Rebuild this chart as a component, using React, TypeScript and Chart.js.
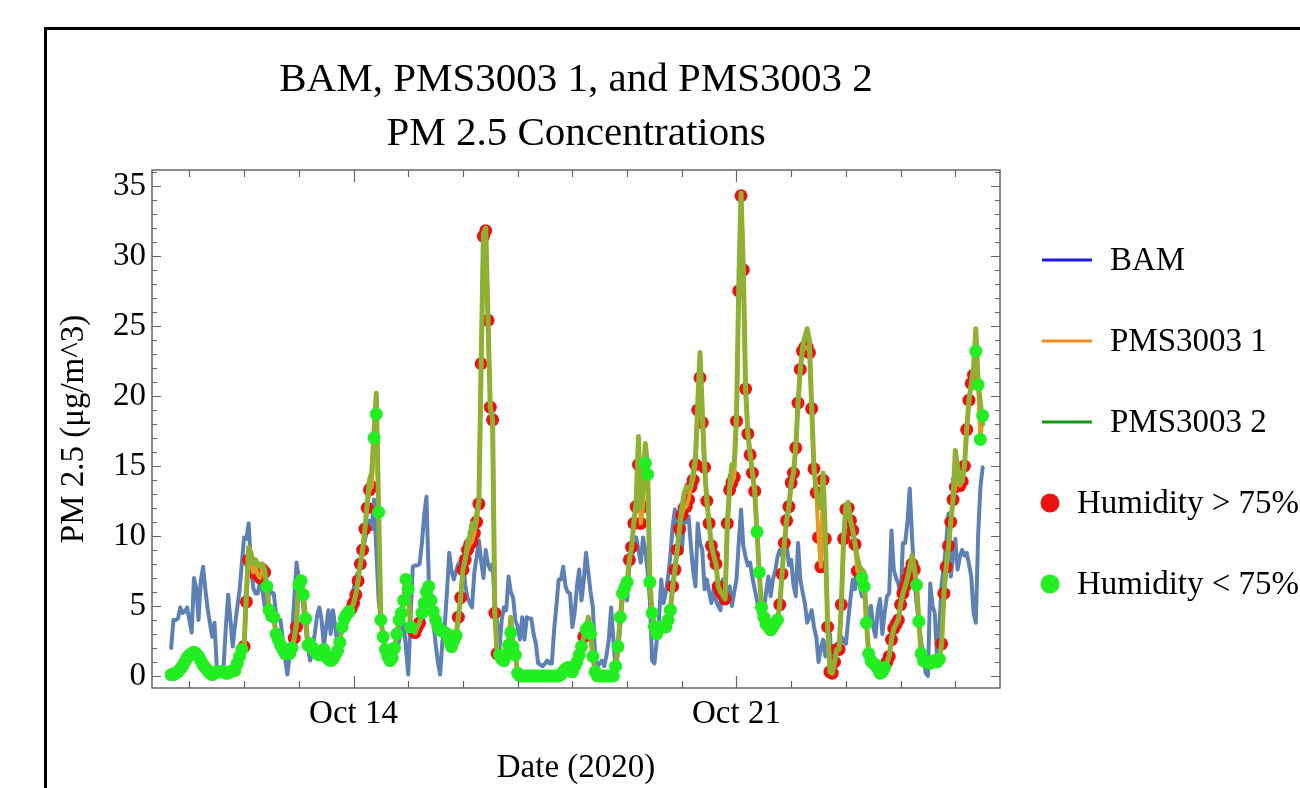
import React, { useEffect, useRef } from 'react';
import { Chart, registerables } from 'chart.js';

Chart.register(...registerables);

// Hourly data, first value at START_HOUR (hours after Oct 10, 2020 00:00)
const START_HOUR = 16;

const BAM = [
  2.0, 4.0, 4.0, 4.1, 4.9, 4.5, 4.6, 4.9, 4.0, 3.1, 7.0, 6.3, 4.0, 6.8, 7.8, 6.2, 4.8, 3.8, 2.8, 3.8, 0.7, 0.2, 0.4, 0.7,
  3.5, 5.8, 4.0, 2.1, 3.6, 4.9, 6.1, 8.0, 9.9, 9.8, 10.9, 8.0, 6.3, 5.9, 5.9, 6.8, 6.2, 5.0, 6.4, 5.8, 6.0, 5.9, 4.5, 4.0,
  4.0, 2.5, 1.2, 0.1, 1.5, 3.0, 5.5, 8.1, 7.0, 6.4, 4.8, 3.5, 2.0, 1.1, 2.0, 3.0, 4.3, 4.9, 4.0, 2.1, 3.5, 4.7, 3.0, 4.7,
  3.5, 2.1, 3.0, 4.0, 4.5, 4.7, 5.0, 5.4, 6.2, 7.0, 7.4, 7.8, 8.8, 9.7, 10.5, 11.1, 10.5, 12.6, 9.0, 5.5, 4.0, 3.0, 1.9, 1.9,
  1.9, 1.9, 1.9, 1.9, 2.5, 3.2, 3.8, 2.0, 0.1, 4.0, 7.8, 7.9, 7.9, 8.0, 9.5, 11.5, 12.8, 6.9, 5.5, 4.0, 2.3, 1.0, 0.1, 2.5,
  3.5, 6.0, 8.8, 7.5, 6.9, 7.5, 8.0, 8.2, 8.3, 6.5, 5.6, 5.2, 4.9, 7.4, 8.5, 9.7, 8.2, 7.0, 9.0, 8.0, 7.6, 8.0, 5.0, 3.8,
  1.9, 4.0, 4.9, 4.7, 7.1, 6.0, 5.6, 4.0, 3.5, 2.6, 4.2, 2.6, 4.2, 4.1, 4.1, 3.0, 2.3, 0.9, 0.8, 0.7, 0.9, 1.1, 0.9, 0.9,
  3.3, 5.0, 6.9, 6.9, 7.8, 6.4, 6.0, 5.9, 3.5, 4.5, 6.4, 7.6, 5.4, 6.8, 8.8, 7.4, 6.0, 4.9, 1.4, 0.7, 0.9, 1.1, 0.7, 1.5,
  2.6, 4.9, 2.6, 0.5, 1.6, 3.5, 5.4, 6.6, 5.4, 7.8, 8.5, 9.2, 9.9, 9.0, 8.1, 9.9, 9.0, 7.5, 5.4, 1.1, 0.9, 2.5, 4.0, 6.9,
  5.2, 6.0, 7.1, 8.6, 10.7, 11.9, 10.0, 9.5, 8.8, 11.2, 11.0, 11.4, 9.3, 7.5, 6.4, 10.9, 9.5, 9.0, 6.2, 6.9, 6.0, 5.2, 6.2, 5.4,
  5.0, 4.7, 6.9, 6.2, 6.3, 6.4, 5.0, 6.0, 6.9, 9.5, 11.9, 9.3, 8.5, 7.9, 8.1, 7.0, 6.2, 5.4, 4.5, 4.0, 4.7, 6.0, 7.1, 5.7,
  6.9, 7.5, 8.5, 9.0, 8.6, 9.0, 9.5, 7.9, 8.3, 6.5, 5.7, 9.5, 6.9, 6.0, 5.2, 3.8, 4.2, 4.7, 3.5, 2.8, 1.0, 2.0, 2.6, 1.4,
  2.5, 3.0, 0.5, 2.0, 2.3, 1.6, 2.8, 2.5, 2.3, 4.0, 5.5, 6.9, 6.2, 7.9, 6.5, 5.7, 5.7, 5.0, 4.0, 5.0, 3.5, 2.8, 4.7, 5.5,
  3.0, 4.5, 5.7, 5.9, 10.4, 7.6, 7.0, 6.6, 5.7, 9.5, 9.5, 11.0, 13.4, 10.0, 7.0, 5.2, 3.8, 2.5, 1.4, 0.2, 0.0, 6.6, 5.0, 4.5,
  1.1, 3.5, 6.6, 7.8, 9.5, 11.6, 7.1, 8.5, 9.8, 7.6, 8.5, 9.0, 8.6, 8.8, 8.0, 7.1, 4.5, 3.8, 10.0, 13.5, 14.9,
];

const PMS1 = [
  0.1, 0.1, 0.2, 0.3, 0.5, 0.7, 1.0, 1.3, 1.5, 1.6, 1.7, 1.6, 1.4, 1.1, 0.8, 0.6, 0.4, 0.2, 0.1, 0.2, 0.3, 0.3, 0.3, 0.3,
  0.2, 0.2, 0.3, 0.4, 0.4, 0.9, 1.4, 1.9, 2.1, 5.3, 8.3, 8.0, 7.4, 7.8, 7.2, 7.0, 7.6, 7.4, 6.4, 4.7, 4.3, 4.2, 3.0, 2.6,
  2.2, 1.9, 1.6, 1.8, 1.6, 2.0, 2.7, 3.5, 6.5, 6.8, 5.8, 4.1, 2.2, 2.3, 2.0, 1.8, 1.6, 1.5, 1.8, 1.9, 1.4, 1.2, 1.1, 1.2,
  1.5, 1.8, 2.4, 3.5, 4.1, 4.4, 4.6, 4.8, 5.2, 5.8, 6.8, 8.0, 9.0, 10.5, 12.0, 13.3, 13.5, 17.0, 18.7, 11.7, 4.0, 2.8, 1.9, 1.4,
  1.1, 1.3, 2.0, 3.0, 4.0, 4.5, 5.4, 6.9, 6.2, 3.5, 3.3, 3.1, 3.5, 3.8, 4.5, 5.2, 6.0, 6.4, 5.4, 4.6, 4.0, 3.5, 3.3, 3.2,
  3.1, 3.0, 2.5, 2.1, 2.5, 2.9, 4.2, 5.6, 7.6, 8.3, 9.0, 9.4, 9.6, 10.2, 11.0, 12.3, 22.3, 31.4, 31.8, 25.4, 19.2, 18.3, 4.5, 1.6,
  1.5, 1.2, 1.1, 1.5, 2.2, 3.1, 2.1, 1.5, 0.2, 0.0, 0.0, 0.0, 0.0, 0.0, 0.0, 0.0, 0.0, 0.0, 0.0, 0.0, 0.0, 0.0, 0.0, 0.0,
  0.0, 0.0, 0.0, 0.1, 0.3, 0.5, 0.6, 0.4, 0.3, 0.7, 1.0, 1.5, 2.1, 2.8, 3.3, 3.5, 3.0, 1.4, 0.3, 0.0, 0.0, 0.0, 0.0, 0.0,
  0.0, 0.0, 0.0, 0.7, 2.1, 4.2, 5.9, 6.3, 6.7, 8.3, 9.2, 10.9, 12.1, 15.1, 10.9, 12.1, 15.2, 14.4, 6.7, 4.5, 3.5, 3.0, 3.5, 3.5,
  3.5, 3.5, 4.0, 4.7, 6.4, 7.6, 9.0, 10.5, 11.5, 12.0, 12.1, 12.6, 13.5, 14.0, 15.1, 19.0, 21.3, 18.1, 14.9, 12.5, 10.9, 9.3, 8.6, 8.0,
  6.4, 6.0, 5.8, 5.5, 10.9, 13.3, 13.8, 14.2, 18.2, 27.5, 34.3, 29.0, 20.5, 17.3, 15.8, 14.5, 13.2, 10.3, 7.4, 4.9, 4.2, 3.7, 3.5, 3.3,
  3.5, 3.8, 4.0, 5.1, 7.3, 9.5, 11.1, 12.1, 13.8, 14.5, 16.3, 19.5, 21.9, 23.2, 23.5, 23.5, 23.1, 19.1, 14.8, 13.1, 9.9, 7.8, 14.0, 9.8,
  3.5, 0.3, 0.2, 1.0, 1.9, 1.9, 5.1, 9.8, 11.9, 12.0, 11.1, 10.4, 9.4, 7.5, 7.3, 7.0, 6.4, 3.8, 1.6, 1.1, 0.9, 0.8, 0.5, 0.2,
  0.3, 0.6, 1.0, 1.4, 2.6, 3.4, 3.7, 4.0, 5.1, 5.9, 6.4, 7.0, 7.5, 8.0, 7.6, 6.5, 3.9, 1.6, 1.1, 1.0, 1.0, 0.9, 1.0, 1.1,
  1.0, 1.2, 2.3, 5.9, 7.8, 9.3, 11.0, 12.6, 13.5, 14.0, 13.6, 13.9, 15.0, 17.6, 19.7, 20.9, 21.5, 23.2, 20.8, 16.9, 18.6,
];

const PMS2 = [
  0.1, 0.1, 0.2, 0.3, 0.5, 0.7, 1.0, 1.3, 1.5, 1.6, 1.7, 1.6, 1.4, 1.1, 0.8, 0.6, 0.4, 0.2, 0.1, 0.2, 0.3, 0.3, 0.3, 0.3,
  0.2, 0.2, 0.3, 0.4, 0.4, 0.9, 1.4, 1.9, 2.1, 6.0, 9.2, 8.8, 8.0, 8.3, 8.0, 7.8, 8.0, 7.6, 6.4, 4.7, 4.3, 4.2, 3.0, 2.6,
  2.2, 1.9, 1.6, 1.8, 1.6, 2.0, 2.7, 3.8, 7.1, 6.8, 5.8, 4.1, 2.2, 2.3, 2.0, 1.8, 1.6, 1.5, 1.8, 1.9, 1.4, 1.2, 1.1, 1.2,
  1.5, 1.8, 2.4, 3.5, 4.1, 4.4, 4.6, 4.8, 5.2, 5.8, 6.8, 8.0, 9.0, 10.5, 12.3, 14.0, 14.5, 17.5, 20.2, 12.0, 4.0, 2.8, 1.9, 1.4,
  1.1, 1.3, 2.0, 3.0, 4.0, 4.5, 5.4, 7.0, 6.2, 3.5, 3.3, 3.1, 3.5, 3.8, 4.5, 5.2, 6.0, 6.5, 5.4, 4.6, 4.0, 3.5, 3.3, 3.2,
  3.1, 3.0, 2.5, 2.1, 2.5, 2.9, 4.2, 5.6, 7.6, 8.3, 9.5, 10.0, 10.9, 10.5, 11.5, 12.5, 22.3, 31.6, 32.0, 25.4, 19.2, 18.3, 4.5, 1.6,
  1.5, 1.2, 1.1, 1.5, 2.5, 4.2, 2.1, 1.5, 0.2, 0.0, 0.0, 0.0, 0.0, 0.0, 0.0, 0.0, 0.0, 0.0, 0.0, 0.0, 0.0, 0.0, 0.0, 0.0,
  0.0, 0.0, 0.0, 0.1, 0.3, 0.5, 0.6, 0.4, 0.3, 0.7, 1.0, 1.5, 2.1, 2.8, 3.4, 4.2, 3.0, 1.4, 0.3, 0.0, 0.0, 0.0, 0.0, 0.0,
  0.0, 0.0, 0.0, 0.7, 2.1, 4.2, 5.9, 6.3, 6.7, 8.3, 9.2, 11.0, 12.5, 17.1, 12.0, 13.5, 16.6, 15.0, 6.7, 4.5, 3.5, 3.0, 3.5, 3.5,
  3.5, 3.5, 4.0, 4.7, 6.4, 7.6, 9.0, 10.5, 12.0, 13.0, 13.5, 13.5, 13.5, 14.5, 15.5, 19.5, 23.1, 19.0, 15.0, 12.5, 10.9, 9.3, 8.6, 8.0,
  6.4, 6.0, 5.8, 5.5, 10.9, 13.5, 15.1, 15.0, 18.5, 27.8, 34.5, 29.0, 20.5, 17.3, 15.8, 14.5, 13.2, 10.3, 7.4, 4.9, 4.2, 3.7, 3.5, 3.3,
  3.5, 3.8, 4.0, 5.1, 7.3, 9.5, 11.1, 12.1, 13.8, 14.5, 16.3, 19.5, 21.9, 23.5, 24.2, 24.8, 24.0, 19.1, 14.8, 13.1, 12.5, 12.0, 14.5, 9.8,
  3.5, 0.3, 0.2, 1.0, 1.9, 1.9, 5.1, 9.8, 12.2, 12.4, 11.1, 10.4, 9.4, 8.5, 7.8, 7.6, 7.4, 3.8, 1.6, 1.1, 0.9, 0.8, 0.5, 0.2,
  0.3, 0.6, 1.0, 1.4, 2.6, 3.4, 3.7, 4.0, 5.1, 5.9, 6.4, 7.0, 7.8, 8.6, 7.8, 6.5, 3.9, 1.6, 1.1, 1.0, 1.0, 0.9, 1.0, 1.1,
  1.0, 1.2, 2.3, 5.9, 7.8, 9.3, 11.0, 12.6, 16.1, 15.0, 13.8, 13.9, 15.0, 17.6, 19.7, 20.9, 22.0, 24.8, 21.0, 19.5, 18.0,
];

// Hour ranges (inclusive) where humidity > 75%
const HUMID_HIGH_RANGES = [
  [48, 57], [70, 71], [95, 104], [122, 125], [142, 159], [197, 197],
  [217, 223], [236, 272], [283, 318], [330, 342], [354, 368],
];

const Y_TICKS = [0, 5, 10, 15, 20, 25, 30, 35];
const X_TICK_HOURS = [96, 264];
const X_TICK_LABELS = ['Oct 14', 'Oct 21'];
const DAY_TICK_HOURS = [24, 48, 72, 96, 120, 144, 168, 192, 216, 240, 264, 288, 312, 336, 360];

const TITLE_LINES = ['BAM, PMS3003 1, and PMS3003 2', 'PM 2.5 Concentrations'];
const X_TITLE = 'Date (2020)';
const Y_TITLE = 'PM 2.5 (\u03BCg/m^3)';
const LEGEND_LABELS = ['BAM', 'PMS3003 1', 'PMS3003 2', 'Humidity > 75%', 'Humidity < 75%'];

const FONT = '"Liberation Serif", "Times New Roman", Times, serif';

const isHumid = (h: number) => HUMID_HIGH_RANGES.some(([a, b]) => h >= a && h <= b);
const toPoints = (arr: number[]) => arr.map((v, i) => ({ x: START_HOUR + i, y: v }));

const framePlugin = {
  id: 'frameTicks',
  afterDatasetsDraw(chart: any) {
    const { ctx, chartArea: a, scales } = chart;
    ctx.save();
    ctx.strokeStyle = '#666';
    ctx.lineWidth = 1.5;
    ctx.strokeRect(a.left, a.top, a.right - a.left, a.bottom - a.top);
    ctx.lineWidth = 1.2;
    ctx.beginPath();
    for (let v = 0; v <= 36; v++) {
      const y = Math.round(scales.y.getPixelForValue(v)) + 0.5;
      const len = v % 5 === 0 ? 9 : 5;
      ctx.moveTo(a.left, y); ctx.lineTo(a.left + len, y);
      ctx.moveTo(a.right, y); ctx.lineTo(a.right - len, y);
    }
    DAY_TICK_HOURS.forEach((h) => {
      const x = Math.round(scales.x.getPixelForValue(h)) + 0.5;
      const len = X_TICK_HOURS.includes(h) ? 12 : 7;
      ctx.moveTo(x, a.bottom); ctx.lineTo(x, a.bottom - len);
      ctx.moveTo(x, a.top); ctx.lineTo(x, a.top + len);
    });
    ctx.stroke();
    ctx.restore();
  },
};

const legendPlugin = {
  id: 'customLegend',
  afterDraw(chart: any) {
    const { ctx } = chart;
    const colors = ['#1a1ae6', '#f28c1e', '#139a13', '#ee1111', '#22ee22'];
    const ys = [260, 341, 422, 503, 584];
    ctx.save();
    ctx.font = `33px ${FONT}`;
    ctx.textBaseline = 'middle';
    ctx.fillStyle = '#000';
    LEGEND_LABELS.forEach((label, i) => {
      const y = ys[i];
      if (i < 3) {
        ctx.strokeStyle = colors[i];
        ctx.lineWidth = 3;
        ctx.beginPath();
        ctx.moveTo(1042, y);
        ctx.lineTo(1092, y);
        ctx.stroke();
        ctx.fillStyle = '#000';
        ctx.fillText(label, 1110, y + 1);
      } else {
        ctx.fillStyle = colors[i];
        ctx.beginPath();
        ctx.arc(1050, y, 9.5, 0, Math.PI * 2);
        ctx.fill();
        ctx.fillStyle = '#000';
        ctx.fillText(label, 1077, y + 1);
      }
    });
    ctx.restore();
  },
};

export default function App() {
  const canvasRef = useRef<HTMLCanvasElement>(null);

  useEffect(() => {
    const canvas = canvasRef.current;
    if (!canvas) return;
    const pms1Pts = toPoints(PMS1);
    const redPts = pms1Pts.filter((p) => isHumid(p.x));
    const greenPts = pms1Pts.filter((p) => !isHumid(p.x));
    const tickFont = { family: FONT, size: 33, weight: 'normal' as const };

    const chart = new Chart(canvas, {
      type: 'line',
      data: {
        datasets: [
          {
            label: 'Humidity < 75%', data: greenPts, showLine: false, order: 0,
            pointRadius: 6.5, pointHoverRadius: 6.5, pointBackgroundColor: '#22ee22', pointBorderWidth: 0,
          },
          {
            label: 'PMS3003 2', data: toPoints(PMS2), order: 1, borderColor: '#8FB032', borderWidth: 5,
            pointRadius: 0, tension: 0, borderJoinStyle: 'round', borderCapStyle: 'round',
          },
          {
            label: 'PMS3003 1', data: pms1Pts, order: 2, borderColor: '#E19C24', borderWidth: 4,
            pointRadius: 0, tension: 0, borderJoinStyle: 'round', borderCapStyle: 'round',
          },
          {
            label: 'Humidity > 75%', data: redPts, showLine: false, order: 3,
            pointRadius: 6.5, pointHoverRadius: 6.5, pointBackgroundColor: '#ee1111', pointBorderWidth: 0,
          },
          {
            label: 'BAM', data: toPoints(BAM), order: 4, borderColor: '#5E81B5', borderWidth: 4,
            pointRadius: 0, tension: 0, borderJoinStyle: 'round', borderCapStyle: 'round',
          },
        ],
      },
      options: {
        responsive: false,
        devicePixelRatio: 1,
        animation: false,
        events: [],
        layout: { padding: { left: 55, right: 300, top: 0, bottom: 0 } },
        plugins: {
          legend: { display: false },
          tooltip: { enabled: false },
          title: {
            display: true,
            fullSize: false,
            text: TITLE_LINES,
            color: '#000',
            font: { family: FONT, size: 41, weight: 'normal', lineHeight: 54 / 41 },
            padding: { top: 53, bottom: 9 },
          },
        },
        scales: {
          x: {
            type: 'linear',
            min: 7.6,
            max: 379.6,
            grid: { display: false, drawTicks: false },
            border: { display: false },
            afterBuildTicks: (axis: any) => { axis.ticks = X_TICK_HOURS.map((v) => ({ value: v })); },
            afterFit: (axis: any) => { axis.height = 100; },
            ticks: {
              color: '#000', font: tickFont, padding: 7, maxRotation: 0, autoSkip: false,
              callback: (v: any) => X_TICK_LABELS[X_TICK_HOURS.indexOf(Number(v))] ?? '',
            },
            title: { display: true, text: X_TITLE, color: '#000', font: tickFont, padding: { top: 0, bottom: 0 } },
          },
          y: {
            type: 'linear',
            min: -0.857,
            max: 36.14,
            grid: { display: false, drawTicks: false },
            border: { display: false },
            afterBuildTicks: (axis: any) => { axis.ticks = Y_TICKS.map((v) => ({ value: v })); },
            afterFit: (axis: any) => { axis.width = 97; },
            ticks: { color: '#000', font: tickFont, padding: 6 },
            title: { display: true, text: Y_TITLE, color: '#000', font: tickFont, padding: { top: 0, bottom: 0 } },
          },
        },
      },
      plugins: [framePlugin, legendPlugin],
    } as any);

    return () => chart.destroy();
  }, []);

  return (
    <div style={{ position: 'fixed', left: 0, top: 0, width: 1300, height: 788, overflow: 'hidden', background: '#fff' }}>
      <div
        style={{
          position: 'absolute', left: 44, top: 27, width: 1400, height: 900,
          border: '3px solid #000', boxSizing: 'border-box',
        }}
      />
      <canvas
        ref={canvasRef}
        width={1300}
        height={788}
        style={{ position: 'absolute', left: 0, top: 0, width: 1300, height: 788 }}
      />
    </div>
  );
}
